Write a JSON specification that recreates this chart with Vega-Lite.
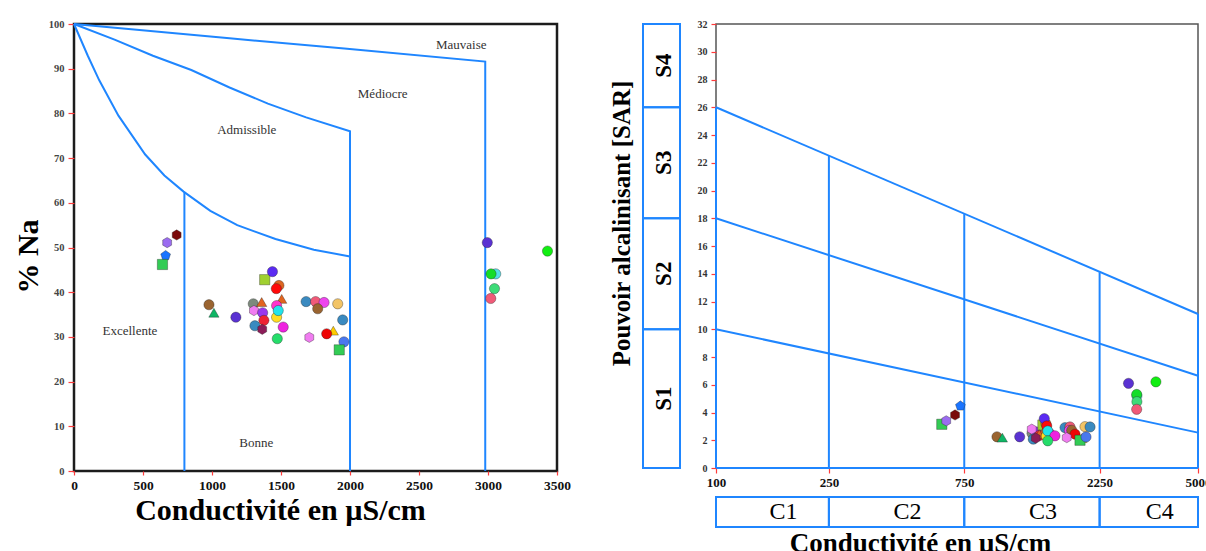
{
  "$schema": "https://vega.github.io/schema/vega-lite/v6.json",
  "padding": {"left": 11, "top": 17, "right": 0, "bottom": 0},
  "background": "#ffffff",
  "config": {
    "font": "Liberation Serif",
    "axis": {"grid": false, "domain": false, "labelFont": "Liberation Serif", "titleFont": "Liberation Serif", "tickColor": "#ff3b3b", "tickWidth": 1.2, "labelOverlap": false}
  },
  "datasets": {
    "wilcox_limites": [
      {"limite": "excellente", "ordre": 1, "ce": 0, "na": 100},
      {"limite": "excellente", "ordre": 2, "ce": 100, "na": 92.9},
      {"limite": "excellente", "ordre": 3, "ce": 183, "na": 87.4},
      {"limite": "excellente", "ordre": 4, "ce": 322, "na": 79.5},
      {"limite": "excellente", "ordre": 5, "ce": 516, "na": 70.8},
      {"limite": "excellente", "ordre": 6, "ce": 655, "na": 66.1},
      {"limite": "excellente", "ordre": 7, "ce": 794, "na": 62.5},
      {"limite": "excellente", "ordre": 8, "ce": 988, "na": 58.2},
      {"limite": "excellente", "ordre": 9, "ce": 1183, "na": 55.0},
      {"limite": "excellente", "ordre": 10, "ce": 1460, "na": 51.9},
      {"limite": "excellente", "ordre": 11, "ce": 1738, "na": 49.5},
      {"limite": "excellente", "ordre": 12, "ce": 2000, "na": 48.0},
      {"limite": "bonne", "ordre": 1, "ce": 800, "na": 62.3},
      {"limite": "bonne", "ordre": 2, "ce": 800, "na": 0},
      {"limite": "admissible", "ordre": 1, "ce": 0, "na": 100},
      {"limite": "admissible", "ordre": 2, "ce": 294, "na": 96.5},
      {"limite": "admissible", "ordre": 3, "ce": 572, "na": 92.9},
      {"limite": "admissible", "ordre": 4, "ce": 850, "na": 89.7},
      {"limite": "admissible", "ordre": 5, "ce": 1127, "na": 85.8},
      {"limite": "admissible", "ordre": 6, "ce": 1405, "na": 82.2},
      {"limite": "admissible", "ordre": 7, "ce": 1682, "na": 79.1},
      {"limite": "admissible", "ordre": 8, "ce": 2000, "na": 76.0},
      {"limite": "admissible", "ordre": 9, "ce": 2000, "na": 0},
      {"limite": "mediocre", "ordre": 1, "ce": 0, "na": 100},
      {"limite": "mediocre", "ordre": 2, "ce": 1127, "na": 96.8},
      {"limite": "mediocre", "ordre": 3, "ce": 1959, "na": 94.5},
      {"limite": "mediocre", "ordre": 4, "ce": 2980, "na": 91.6},
      {"limite": "mediocre", "ordre": 5, "ce": 2980, "na": 0}
    ],
    "wilcox_zones": [
      {"zone": "Mauvaise", "ce": 2806, "na": 95.4},
      {"zone": "Médiocre", "ce": 2237, "na": 84.4},
      {"zone": "Admissible", "ce": 1252, "na": 76.3},
      {"zone": "Excellente", "ce": 405, "na": 31.4},
      {"zone": "Bonne", "ce": 1321, "na": 6.3}
    ],
    "wilcox": [
      {"id": "P33", "ce": 1299, "na": 37.4},
      {"id": "P12", "ce": 1304, "na": 35.9},
      {"id": "P13", "ce": 1311, "na": 32.5},
      {"id": "P34", "ce": 1367, "na": 35.4},
      {"id": "P35", "ce": 1376, "na": 33.7},
      {"id": "P14", "ce": 1364, "na": 31.7},
      {"id": "P16", "ce": 1360, "na": 37.8},
      {"id": "P32", "ce": 1382, "na": 42.8},
      {"id": "P08", "ce": 1438, "na": 44.6},
      {"id": "P41", "ce": 1485, "na": 41.5},
      {"id": "P09", "ce": 1466, "na": 40.8},
      {"id": "P36", "ce": 1505, "na": 38.5},
      {"id": "P37", "ce": 1468, "na": 37.0},
      {"id": "P38", "ce": 1468, "na": 34.4},
      {"id": "P10", "ce": 1480, "na": 35.9},
      {"id": "P15", "ce": 1516, "na": 32.2},
      {"id": "P11", "ce": 1473, "na": 29.6},
      {"id": "P01", "ce": 744, "na": 52.8},
      {"id": "P02", "ce": 675, "na": 51.1},
      {"id": "P03", "ce": 664, "na": 48.2},
      {"id": "P04", "ce": 641, "na": 46.2},
      {"id": "P05", "ce": 978, "na": 37.2},
      {"id": "P06", "ce": 1014, "na": 35.4},
      {"id": "P07", "ce": 1173, "na": 34.4},
      {"id": "P17", "ce": 1682, "na": 37.9},
      {"id": "P18", "ce": 1751, "na": 37.9},
      {"id": "P39", "ce": 1812, "na": 37.7},
      {"id": "P19", "ce": 1766, "na": 36.3},
      {"id": "P22", "ce": 1911, "na": 37.4},
      {"id": "P21", "ce": 1705, "na": 29.9},
      {"id": "P40", "ce": 1879, "na": 31.4},
      {"id": "P20", "ce": 1831, "na": 30.7},
      {"id": "P23", "ce": 1947, "na": 33.8},
      {"id": "P24", "ce": 1956, "na": 28.9},
      {"id": "P25", "ce": 1922, "na": 27.1},
      {"id": "P26", "ce": 2995, "na": 51.1},
      {"id": "P27", "ce": 3431, "na": 49.2},
      {"id": "P31", "ce": 3056, "na": 44.1},
      {"id": "P28", "ce": 3022, "na": 44.1},
      {"id": "P29", "ce": 3047, "na": 40.8},
      {"id": "P30", "ce": 3020, "na": 38.6}
    ],
    "riverside_limites": [
      {"limite": "S1-S2", "ordre": 1, "ce": 100, "sar": 10},
      {"limite": "S1-S2", "ordre": 2, "ce": 5000, "sar": 2.55},
      {"limite": "S2-S3", "ordre": 1, "ce": 100, "sar": 18},
      {"limite": "S2-S3", "ordre": 2, "ce": 5000, "sar": 6.65},
      {"limite": "S3-S4", "ordre": 1, "ce": 100, "sar": 26},
      {"limite": "S3-S4", "ordre": 2, "ce": 5000, "sar": 11.1},
      {"limite": "C1-C2", "ordre": 1, "ce": 250, "sar": 0},
      {"limite": "C1-C2", "ordre": 2, "ce": 250, "sar": 22.5},
      {"limite": "C2-C3", "ordre": 1, "ce": 750, "sar": 0},
      {"limite": "C2-C3", "ordre": 2, "ce": 750, "sar": 18.3},
      {"limite": "C3-C4", "ordre": 1, "ce": 2250, "sar": 0},
      {"limite": "C3-C4", "ordre": 2, "ce": 2250, "sar": 14.1},
      {"limite": "gauche", "ordre": 1, "ce": 100, "sar": 0},
      {"limite": "gauche", "ordre": 2, "ce": 100, "sar": 26},
      {"limite": "droite", "ordre": 1, "ce": 5000, "sar": 0},
      {"limite": "droite", "ordre": 2, "ce": 5000, "sar": 11.1},
      {"limite": "base", "ordre": 1, "ce": 100, "sar": 0},
      {"limite": "base", "ordre": 2, "ce": 5000, "sar": 0}
    ],
    "riverside": [
      {"id": "P31", "ce": 3045, "sar": 5.2},
      {"id": "P28", "ce": 3040, "sar": 5.3},
      {"id": "P29", "ce": 3045, "sar": 4.78},
      {"id": "P30", "ce": 3040, "sar": 4.23},
      {"id": "P26", "ce": 2845, "sar": 6.1},
      {"id": "P27", "ce": 3553, "sar": 6.21},
      {"id": "P04", "ce": 625, "sar": 3.15},
      {"id": "P02", "ce": 648, "sar": 3.4},
      {"id": "P01", "ce": 696, "sar": 3.82},
      {"id": "P03", "ce": 727, "sar": 4.47},
      {"id": "P05", "ce": 978, "sar": 2.25},
      {"id": "P06", "ce": 1022, "sar": 2.19},
      {"id": "P07", "ce": 1176, "sar": 2.25},
      {"id": "P33", "ce": 1300, "sar": 2.5},
      {"id": "P34", "ce": 1340, "sar": 2.6},
      {"id": "P35", "ce": 1380, "sar": 2.35},
      {"id": "P32", "ce": 1420, "sar": 3.1},
      {"id": "P41", "ce": 1455, "sar": 3.2},
      {"id": "P36", "ce": 1420, "sar": 2.55},
      {"id": "P16", "ce": 1379, "sar": 2.44},
      {"id": "P12", "ce": 1297, "sar": 2.8},
      {"id": "P13", "ce": 1313, "sar": 2.08},
      {"id": "P14", "ce": 1340, "sar": 2.15},
      {"id": "P08", "ce": 1436, "sar": 3.56},
      {"id": "P09", "ce": 1465, "sar": 3.03},
      {"id": "P37", "ce": 1500, "sar": 2.5},
      {"id": "P38", "ce": 1460, "sar": 2.3},
      {"id": "P10", "ce": 1477, "sar": 2.67},
      {"id": "P15", "ce": 1566, "sar": 2.32},
      {"id": "P11", "ce": 1477, "sar": 1.96},
      {"id": "P17", "ce": 1699, "sar": 2.91},
      {"id": "P18", "ce": 1769, "sar": 2.96},
      {"id": "P39", "ce": 1760, "sar": 2.7},
      {"id": "P19", "ce": 1794, "sar": 2.72},
      {"id": "P20", "ce": 1843, "sar": 2.44},
      {"id": "P21", "ce": 1723, "sar": 2.19},
      {"id": "P40", "ce": 1950, "sar": 2.15},
      {"id": "P25", "ce": 1919, "sar": 2.0},
      {"id": "P22", "ce": 1998, "sar": 2.98},
      {"id": "P23", "ce": 2082, "sar": 2.96},
      {"id": "P24", "ce": 2015, "sar": 2.24}
    ],
    "classes_sar": [
      {"classe": "S1", "sar_min": 0, "sar_max": 10},
      {"classe": "S2", "sar_min": 10, "sar_max": 18},
      {"classe": "S3", "sar_min": 18, "sar_max": 26},
      {"classe": "S4", "sar_min": 26, "sar_max": 32}
    ],
    "classes_ce": [
      {"classe": "C1", "ce_min": 100, "ce_max": 250},
      {"classe": "C2", "ce_min": 250, "ce_max": 750},
      {"classe": "C3", "ce_min": 750, "ce_max": 2250},
      {"classe": "C4", "ce_min": 2250, "ce_max": 5000}
    ]
  },
  "spacing": 37,
  "hconcat": [
    {
      "width": 483,
      "height": 447,
      "view": {"stroke": "#1c1c1c", "strokeWidth": 2.5},
      "layer": [
        {
          "data": {"name": "wilcox_limites"},
          "mark": {"type": "line", "color": "#1f86ff", "strokeWidth": 2},
          "encoding": {
            "x": {
              "field": "ce", "type": "quantitative",
              "scale": {"domain": [0, 3500], "nice": false, "zero": false},
              "axis": {
                "values": [0, 500, 1000, 1500, 2000, 2500, 3000, 3500], "tickCount": 20, "format": "d",
                "labelFontSize": 13.5, "labelFontWeight": "bold", "labelColor": "#111",
                "labelFlush": false, "labelOverlap": false, "tickSize": 4, "labelPadding": 3,
                "title": "Conductivité en µS/cm", "titleFontSize": 30, "titleFontWeight": "bold", "titleColor": "#000",
                "titleX": 206, "titleY": 24, "titleBaseline": "top"
              }
            },
            "y": {
              "field": "na", "type": "quantitative",
              "scale": {"domain": [0, 100], "nice": false},
              "axis": {
                "values": [0, 10, 20, 30, 40, 50, 60, 70, 80, 90, 100], "tickCount": 20,
                "labelFontSize": 10.5, "labelFontWeight": "bold", "labelColor": "#444",
                "labelOverlap": false, "tickSize": 6, "labelPadding": 4,
                "title": "% Na", "titleFontSize": 30, "titleFontWeight": "bold", "titleColor": "#000",
                "titleX": -31, "titleY": 232
              }
            },
            "detail": {"field": "limite"},
            "order": {"field": "ordre", "type": "quantitative"}
          }
        },
        {
          "data": {"name": "wilcox_zones"},
          "mark": {"type": "text", "font": "Liberation Serif", "fontSize": 13, "color": "#333", "align": "center", "baseline": "middle"},
          "encoding": {
            "x": {"field": "ce", "type": "quantitative"},
            "y": {"field": "na", "type": "quantitative"},
            "text": {"field": "zone"}
          }
        },
        {
          "data": {"name": "wilcox"},
          "mark": {"type": "point", "filled": true, "size": 105, "opacity": 1, "stroke": "#222", "strokeWidth": 0.8, "strokeOpacity": 0.45},
          "encoding": {
            "x": {"field": "ce", "type": "quantitative"},
            "y": {"field": "na", "type": "quantitative"},
            "color": {
              "field": "id", "type": "nominal", "legend": null,
              "scale": {
                "domain": ["P01","P02","P03","P04","P05","P06","P07","P08","P09","P10","P11","P12","P13","P14","P15","P16","P17","P18","P19","P20","P21","P22","P23","P24","P25","P26","P27","P28","P29","P30","P31","P32","P33","P34","P35","P36","P37","P38","P39","P40","P41"],
                "range": ["#7a0a0a","#9b6cf0","#1a74ff","#33cc55","#9a6430","#0fb565","#5a32d2","#5a2af2","#ff0a0a","#22e3ea","#25dd6a","#f07cf0","#3a8ac0","#8c1c58","#ee22e0","#e2641e","#3a8ac0","#f05a78","#9a6430","#ee0505","#f07cf0","#f2c466","#3a8ac0","#4a78ee","#33cc55","#5a32d2","#12ee12","#14dd28","#3ddc78","#f05a78","#55e0e6","#a0d030","#7c8a7c","#9a36ee","#ee2233","#e2641e","#ff33cc","#ffdd22","#ee44ee","#ffcc00","#dd6622"]
              }
            },
            "shape": {
              "field": "id", "type": "nominal", "legend": null,
              "scale": {
                "domain": ["P01","P02","P03","P04","P05","P06","P07","P08","P09","P10","P11","P12","P13","P14","P15","P16","P17","P18","P19","P20","P21","P22","P23","P24","P25","P26","P27","P28","P29","P30","P31","P32","P33","P34","P35","P36","P37","P38","P39","P40","P41"],
                "range": ["M0,-1L0.866,-0.5L0.866,0.5L0,1L-0.866,0.5L-0.866,-0.5Z","M0,-1L0.866,-0.5L0.866,0.5L0,1L-0.866,0.5L-0.866,-0.5Z","M0,-1L0.951,-0.309L0.588,0.809L-0.588,0.809L-0.951,-0.309Z","square","circle","triangle-up","circle","circle","circle","circle","circle","M0,-1L0.866,-0.5L0.866,0.5L0,1L-0.866,0.5L-0.866,-0.5Z","circle","M0,-1L0.866,-0.5L0.866,0.5L0,1L-0.866,0.5L-0.866,-0.5Z","circle","triangle-up","circle","circle","circle","circle","M0,-1L0.866,-0.5L0.866,0.5L0,1L-0.866,0.5L-0.866,-0.5Z","circle","circle","circle","square","circle","circle","circle","circle","circle","circle","square","circle","circle","circle","triangle-up","circle","circle","circle","triangle-up","circle"]
              }
            }
          }
        }
      ]
    },
    {
      "spacing": 15,
      "hconcat": [
        {
          "width": 37,
          "height": 444,
          "view": {"stroke": null},
          "data": {"name": "classes_sar"},
          "layer": [
            {
              "mark": {"type": "rect", "fill": "#ffffff", "fillOpacity": 0, "stroke": "#1f86ff", "strokeWidth": 2},
              "encoding": {
                "x": {"datum": 0, "type": "quantitative", "scale": {"domain": [0, 1], "nice": false}, "axis": null},
                "x2": {"datum": 1},
                "y": {
                  "field": "sar_min", "type": "quantitative",
                  "scale": {"domain": [0, 32], "nice": false},
                  "axis": {
                    "title": "Pouvoir alcalinisant [SAR]", "titleFontSize": 25, "titleFontWeight": "bold", "titleColor": "#000",
                    "titleX": -8.5, "titleY": 199, "labels": false, "ticks": false, "domain": false
                  }
                },
                "y2": {"field": "sar_max"}
              }
            },
            {
              "transform": [{"calculate": "(datum.sar_min + datum.sar_max) / 2", "as": "sar_centre"}],
              "mark": {"type": "text", "font": "Liberation Serif", "fontSize": 23, "fontWeight": "bold", "color": "#000", "angle": 270, "align": "center", "baseline": "middle", "dy": 2},
              "encoding": {
                "x": {"datum": 0.5, "type": "quantitative"},
                "y": {"field": "sar_centre", "type": "quantitative"},
                "text": {"field": "classe"}
              }
            }
          ]
        },
        {
          "spacing": 6,
          "vconcat": [
            {
              "width": 482,
              "height": 444,
              "view": {"stroke": "#555555", "strokeWidth": 1.5},
              "layer": [
                {
                  "data": {"name": "riverside_limites"},
                  "mark": {"type": "line", "color": "#1f86ff", "strokeWidth": 2},
                  "encoding": {
                    "x": {
                      "field": "ce", "type": "quantitative",
                      "scale": {"type": "log", "domain": [100, 5000], "nice": false},
                      "axis": {
                        "values": [100, 250, 750, 2250, 5000], "tickCount": 20, "format": "d", "title": null,
                        "labelFontSize": 13, "labelFontWeight": "bold", "labelColor": "#111",
                        "labelFlush": false, "labelOverlap": false, "tickSize": 5, "labelPadding": 3
                      }
                    },
                    "y": {
                      "field": "sar", "type": "quantitative",
                      "scale": {"domain": [0, 32], "nice": false},
                      "axis": {
                        "values": [0, 2, 4, 6, 8, 10, 12, 14, 16, 18, 20, 22, 24, 26, 28, 30, 32], "tickCount": 40, "title": null,
                        "labelFontSize": 10, "labelFontWeight": "bold", "labelColor": "#333",
                        "labelOverlap": false, "tickSize": 5, "labelPadding": 4
                      }
                    },
                    "detail": {"field": "limite"},
                    "order": {"field": "ordre", "type": "quantitative"}
                  }
                },
                {
                  "data": {"name": "riverside"},
                  "mark": {"type": "point", "filled": true, "size": 105, "opacity": 1, "stroke": "#222", "strokeWidth": 0.8, "strokeOpacity": 0.45},
                  "encoding": {
                    "x": {"field": "ce", "type": "quantitative"},
                    "y": {"field": "sar", "type": "quantitative"},
                    "color": {
                      "field": "id", "type": "nominal", "legend": null,
                      "scale": {
                        "domain": ["P01","P02","P03","P04","P05","P06","P07","P08","P09","P10","P11","P12","P13","P14","P15","P16","P17","P18","P19","P20","P21","P22","P23","P24","P25","P26","P27","P28","P29","P30","P31","P32","P33","P34","P35","P36","P37","P38","P39","P40","P41"],
                        "range": ["#7a0a0a","#9b6cf0","#1a74ff","#33cc55","#9a6430","#0fb565","#5a32d2","#5a2af2","#ff0a0a","#22e3ea","#25dd6a","#f07cf0","#3a8ac0","#8c1c58","#ee22e0","#e2641e","#3a8ac0","#f05a78","#9a6430","#ee0505","#f07cf0","#f2c466","#3a8ac0","#4a78ee","#33cc55","#5a32d2","#12ee12","#14dd28","#3ddc78","#f05a78","#55e0e6","#a0d030","#7c8a7c","#9a36ee","#ee2233","#e2641e","#ff33cc","#ffdd22","#ee44ee","#ffcc00","#dd6622"]
                      }
                    },
                    "shape": {
                      "field": "id", "type": "nominal", "legend": null,
                      "scale": {
                        "domain": ["P01","P02","P03","P04","P05","P06","P07","P08","P09","P10","P11","P12","P13","P14","P15","P16","P17","P18","P19","P20","P21","P22","P23","P24","P25","P26","P27","P28","P29","P30","P31","P32","P33","P34","P35","P36","P37","P38","P39","P40","P41"],
                        "range": ["M0,-1L0.866,-0.5L0.866,0.5L0,1L-0.866,0.5L-0.866,-0.5Z","M0,-1L0.866,-0.5L0.866,0.5L0,1L-0.866,0.5L-0.866,-0.5Z","M0,-1L0.951,-0.309L0.588,0.809L-0.588,0.809L-0.951,-0.309Z","square","circle","triangle-up","circle","circle","circle","circle","circle","M0,-1L0.866,-0.5L0.866,0.5L0,1L-0.866,0.5L-0.866,-0.5Z","circle","M0,-1L0.866,-0.5L0.866,0.5L0,1L-0.866,0.5L-0.866,-0.5Z","circle","triangle-up","circle","circle","circle","circle","M0,-1L0.866,-0.5L0.866,0.5L0,1L-0.866,0.5L-0.866,-0.5Z","circle","circle","circle","square","circle","circle","circle","circle","circle","circle","square","circle","circle","circle","triangle-up","circle","circle","circle","triangle-up","circle"]
                      }
                    }
                  }
                }
              ]
            },
            {
              "width": 482,
              "height": 30,
              "view": {"stroke": null},
              "data": {"name": "classes_ce"},
              "layer": [
                {
                  "mark": {"type": "rect", "fill": "#ffffff", "fillOpacity": 0, "stroke": "#1f86ff", "strokeWidth": 2},
                  "encoding": {
                    "x": {
                      "field": "ce_min", "type": "quantitative",
                      "scale": {"type": "log", "domain": [100, 5000], "nice": false},
                      "axis": {
                        "title": "Conductivité en µS/cm", "titleFontSize": 27, "titleFontWeight": "bold", "titleColor": "#000",
                        "titleX": 204, "titleY": 3.5, "titleBaseline": "top",
                        "labels": false, "ticks": false, "domain": false
                      }
                    },
                    "x2": {"field": "ce_max"},
                    "y": {"datum": 0, "type": "quantitative", "scale": {"domain": [0, 1], "nice": false}, "axis": null},
                    "y2": {"datum": 1}
                  }
                },
                {
                  "transform": [{"calculate": "sqrt(datum.ce_min * datum.ce_max)", "as": "ce_centre"}],
                  "mark": {"type": "text", "font": "Liberation Serif", "fontSize": 24, "color": "#000", "align": "center", "baseline": "middle", "dx": 11},
                  "encoding": {
                    "x": {"field": "ce_centre", "type": "quantitative"},
                    "y": {"datum": 0.5, "type": "quantitative"},
                    "text": {"field": "classe"}
                  }
                }
              ]
            }
          ]
        }
      ]
    }
  ]
}
